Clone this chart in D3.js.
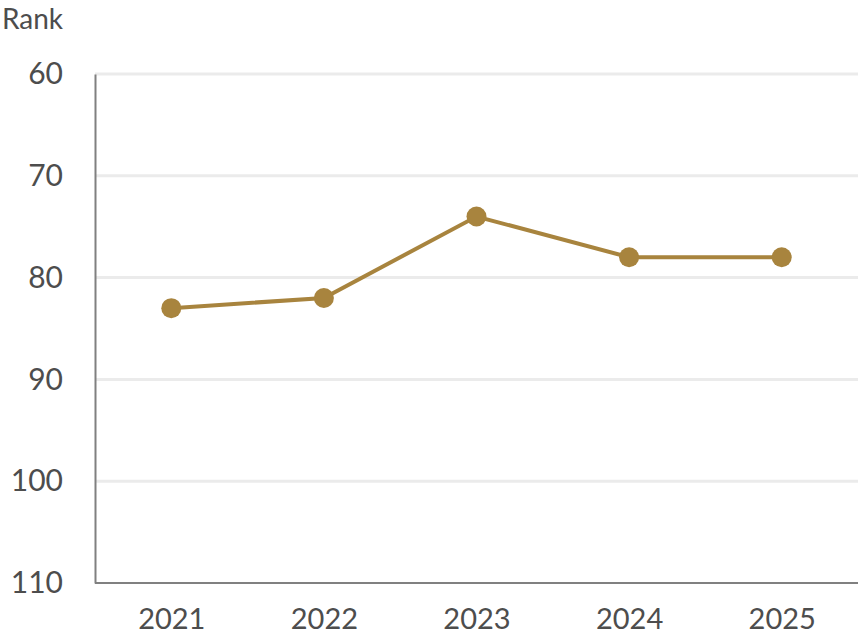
<!DOCTYPE html>
<html><head><meta charset="utf-8">
<script src="https://cdn.jsdelivr.net/npm/d3@7"></script>
<style>body{margin:0;background:#fff}svg{display:block}</style>
</head><body><svg id="c" width="858" height="637"></svg>
<script>
const years = ["2021","2022","2023","2024","2025"];
const ranks = [83, 82, 74, 78, 78];
const yTicks = [60, 70, 80, 90, 100, 110];
const yLabel = "Rank";

const W = 858, H = 637;
const m = {l: 95, r: 0, t: 74, b: 54};
const svg = d3.select("#c");
const font = "Lato, 'DejaVu Sans', sans-serif";
const x = d3.scalePoint().domain(years).range([m.l, W - m.r]).padding(0.5);
const y = d3.scaleLinear().domain([60, 110]).range([m.t, H - m.b]);

// grid
svg.append("g").selectAll("line").data(yTicks.slice(0, -1)).join("line")
  .attr("x1", m.l).attr("x2", W).attr("y1", d => y(d)).attr("y2", d => y(d))
  .attr("stroke", "#ebebeb").attr("stroke-width", 3);

// y axis
const ya = svg.append("g").attr("transform", `translate(${m.l},0)`)
  .call(d3.axisLeft(y).tickValues(yTicks).tickSize(0).tickPadding(32));
ya.select(".domain").attr("stroke", "#808080").attr("stroke-width", 2);
ya.selectAll("text").attr("font-family", font).attr("font-size", 30).attr("fill", "#4d4d4d");

// x axis
const xa = svg.append("g").attr("transform", `translate(0,${H - m.b})`)
  .call(d3.axisBottom(x).tickSize(0).tickPadding(25));
xa.select(".domain").attr("d", `M${m.l},0H${W}`).attr("stroke", "#808080").attr("stroke-width", 2);
xa.selectAll("text").attr("font-family", font).attr("font-size", 29).attr("fill", "#4d4d4d");

svg.append("text").attr("x", 2).attr("y", 29).text(yLabel)
  .attr("font-family", font).attr("font-size", 28).attr("fill", "#4d4d4d");

const data = years.map((d, i) => ({year: d, rank: ranks[i]}));
svg.append("path").datum(data)
  .attr("d", d3.line().x(d => x(d.year)).y(d => y(d.rank)))
  .attr("fill", "none").attr("stroke", "#A8843E").attr("stroke-width", 4);
svg.append("g").selectAll("circle").data(data).join("circle")
  .attr("cx", d => x(d.year)).attr("cy", d => y(d.rank)).attr("r", 10)
  .attr("fill", "#A8843E");
</script></body></html>
